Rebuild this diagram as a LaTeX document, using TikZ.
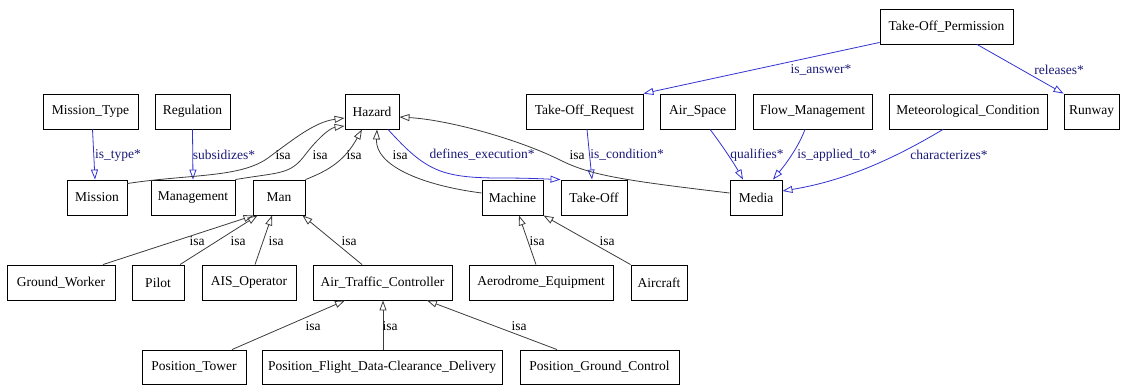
\documentclass[tikz,border=0pt]{standalone}
\usepackage{fontspec}
\setmainfont{Liberation Serif}
\usetikzlibrary{arrows.meta}
\definecolor{isagray}{RGB}{60,60,60}
\definecolor{relblue}{RGB}{50,50,210}
\definecolor{reltext}{RGB}{25,25,120}
\begin{document}
\begin{tikzpicture}[x=1pt,y=-1pt,
  every node/.style={font=\fontsize{13.5}{16}\selectfont},
  box/.style={draw=black, line width=0.9pt, rectangle, inner sep=0pt, minimum height=35pt},
  lowbox/.style={box, minimum height=34pt},
  isa/.style={draw=isagray, line width=0.8pt, -{Triangle[open,length=10pt,width=7pt]}},
  rel/.style={draw=relblue, line width=0.8pt, -{Triangle[open,length=10pt,width=7pt]}},
  isalbl/.style={text=black, inner sep=1pt},
  rellbl/.style={text=reltext, inner sep=1pt}]
\useasboundingbox (0,0) rectangle (1121,385);

% top row
\node[box, minimum width=133pt] (top) at (946.5,26.5) {Take-Off\_Permission};

% second row
\node[box, minimum width=95pt]  (missiontype) at (90.5,111.5) {Mission\_Type};
\node[box, minimum width=75pt]  (regulation)  at (192.5,111.5) {Regulation};
\node[box, minimum width=54pt]  (hazard)      at (372,111.5) {Hazard};
\node[box, minimum width=117pt] (tor)         at (584.5,111.5) {Take-Off\_Request};
\node[box, minimum width=75pt]  (airspace)    at (697.5,111.5) {Air\_Space};
\node[box, minimum width=119pt] (flow)        at (812.5,111.5) {Flow\_Management};
\node[box, minimum width=158pt] (met)         at (968,111.5) {Meteorological\_Condition};
\node[box, minimum width=55pt]  (runway)      at (1091.5,111.5) {Runway};

% third row
\node[box, minimum width=60pt] (mission)    at (97,197.5) {Mission};
\node[box, minimum width=84pt] (management) at (193,197.5) {Management};
\node[box, minimum width=52pt] (man)        at (279,197.5) {Man};
\node[box, minimum width=61pt] (machine)    at (512.5,197.5) {Machine};
\node[box, minimum width=66pt] (takeoff)    at (594,197.5) {Take-Off};
\node[box, minimum width=52pt] (media)      at (756,197.5) {Media};

% fourth row
\node[box, minimum width=108pt] (gw)       at (61,282.5) {Ground\_Worker};
\node[box, minimum width=52pt]  (pilot)    at (158,282.5) {Pilot};
\node[box, minimum width=94pt]  (ais)      at (249,282.5) {AIS\_Operator};
\node[box, minimum width=139pt] (atc)      at (382.5,282.5) {Air\_Traffic\_Controller};
\node[box, minimum width=144pt] (aero)     at (541,282.5) {Aerodrome\_Equipment};
\node[box, minimum width=56pt]  (aircraft) at (659,282.5) {Aircraft};

% bottom row
\node[lowbox, minimum width=104pt] (tower) at (194,367) {Position\_Tower};
\node[lowbox, minimum width=240pt] (pfdcd) at (382,367) {Position\_Flight\_Data-Clearance\_Delivery};
\node[lowbox, minimum width=159pt] (pgc)   at (599.5,367) {Position\_Ground\_Control};

% relations
\draw[rel] ([xshift=2pt]missiontype.south) -- ([xshift=-2pt]mission.north);
\node[rellbl] at (118,155) {is\_type*};
\draw[rel] (regulation.south) -- (management.north);
\node[rellbl] at (224,155) {subsidizes*};
\draw[rel] ([xshift=16pt]hazard.south) .. controls (425,170) and (440,178) .. (500,178)
  .. controls (530,178) and (545,179) .. (takeoff.north west);
\node[rellbl] at (482,155) {defines\_execution*};
\draw[rel] ([xshift=2.5pt]tor.south) -- ([xshift=-2pt]takeoff.north);
\node[rellbl] at (627,155) {is\_condition*};
\draw[rel] ([yshift=2pt]top.south west) -- (tor.north east);
\node[rellbl] at (821,70) {is\_answer*};
\draw[rel] ([xshift=30.5pt]top.south) -- (runway.north west);
\node[rellbl] at (1059,70) {releases*};
\draw[rel] ([xshift=12.5pt]airspace.south) .. controls (722,145) and (735,165) .. ([xshift=-13pt]media.north);
\node[rellbl] at (757,155) {qualifies*};
\draw[rel] ([xshift=-7.5pt]flow.south) .. controls (798,148) and (785,165) .. ([xshift=17pt]media.north);
\node[rellbl] at (837,155) {is\_applied\_to*};
\draw[rel] ([xshift=-25pt]met.south) .. controls (900,155) and (850,180) .. ([yshift=6.5pt]media.east);
\node[rellbl] at (949,155) {characterizes*};

% generalisations towards Hazard
\draw[isa] ([yshift=14pt]mission.east) .. controls (190,174) and (240,178) .. (268,158)
  .. controls (295,138) and (315,122) .. ([yshift=-6.5pt]hazard.west);
\node[isalbl] at (283,155) {isa};
\draw[isa] (management.north east) .. controls (280,172) and (290,175) .. (305,155)
  .. controls (318,138) and (330,128) .. ([yshift=-14.5pt]hazard.west);
\node[isalbl] at (320,155) {isa};
\draw[isa] (man.north east) .. controls (330,170) and (345,160) .. ([xshift=-10pt]hazard.south);
\node[isalbl] at (354,155) {isa};
\draw[isa] ([yshift=4.5pt]machine.west) .. controls (420,185) and (375,165) .. ([xshift=5pt]hazard.south);
\node[isalbl] at (400,155) {isa};
\draw[isa] ([yshift=4.5pt]media.west) .. controls (620,180) and (590,175) .. (560,160)
  .. controls (520,140) and (450,120) .. ([yshift=-5.5pt]hazard.east);
\node[isalbl] at (577,155) {isa};

% generalisations towards Man and Machine
\draw[isa] ([xshift=42pt]gw.north) -- ([xshift=1pt]man.south west);
\node[isalbl] at (197,241) {isa};
\draw[isa] ([xshift=22pt]pilot.north) -- ([xshift=5pt]man.south west);
\node[isalbl] at (238,241) {isa};
\draw[isa] ([xshift=6pt]ais.north) -- ([xshift=-7pt]man.south);
\node[isalbl] at (276,241) {isa};
\draw[isa] ([xshift=-20.5pt]atc.north) -- ([xshift=-3pt]man.south east);
\node[isalbl] at (349,241) {isa};
\draw[isa] ([xshift=-5pt]aero.north) -- ([xshift=6.5pt]machine.south);
\node[isalbl] at (537,241) {isa};
\draw[isa] (aircraft.north west) -- (machine.south east);
\node[isalbl] at (607,241) {isa};

% generalisations towards Air_Traffic_Controller
\draw[isa] ([xshift=38pt]tower.north) -- ([xshift=-37.5pt]atc.south);
\node[isalbl] at (313,326) {isa};
\draw[isa] ([xshift=1pt]pfdcd.north) -- ([xshift=0.5pt]atc.south);
\node[isalbl] at (390,326) {isa};
\draw[isa] ([xshift=-42.5pt]pgc.north) -- ([xshift=44.5pt]atc.south);
\node[isalbl] at (519,326) {isa};
\end{tikzpicture}
\end{document}
